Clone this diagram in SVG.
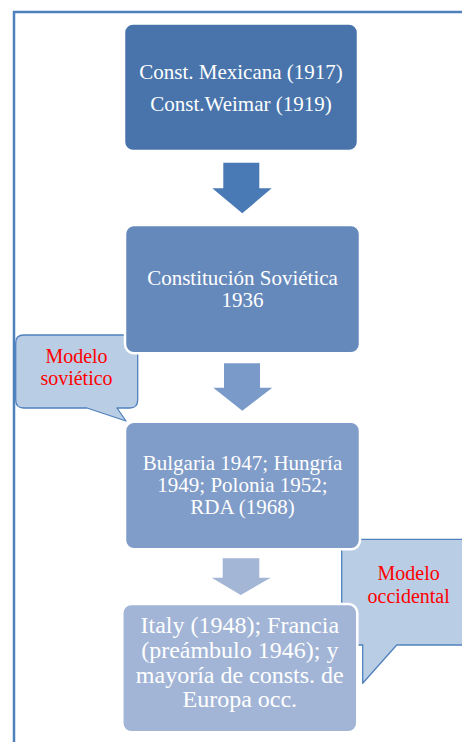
<svg xmlns="http://www.w3.org/2000/svg" width="462" height="742" viewBox="0 0 462 742">
<style>
.box{stroke:#FFFFFF;stroke-width:2.5}
.bt{font-family:"Liberation Serif","Times New Roman",serif;fill:#FFFFFF;text-anchor:middle}
.call{fill:#B9CDE5;stroke:#4F81BD;stroke-width:1.3;stroke-linejoin:round}
.ct{font-family:"Liberation Serif","Times New Roman",serif;fill:#FF0000;font-size:20px;text-anchor:middle}
</style>
<rect width="462" height="742" fill="#FFFFFF"/>
<rect x="14" y="12" width="470" height="750" fill="none" stroke="#4F81BD" stroke-width="2.5"/>
<g id="connectors">
<polygon points="223.3,162.7 259.3,162.7 259.3,188.3 271.7,188.3 242.3,213.3 212.3,188.3 223.3,188.3" fill="#4A7AB5"/>
<polygon points="224,363.3 260,363.3 260,387.7 272.3,387.7 242.3,410.7 213.3,387.7 224,387.7" fill="#7A9BCA"/>
<polygon points="222.7,558.3 259.3,558.3 259.3,577.7 270.7,577.7 240.7,595 211.7,577.7 222.7,577.7" fill="#A3B6D6"/>
</g>
<g id="callout-sovietico">
<path class="call" d="M23.7,335 H129.7 Q137.7,335 137.7,343 V400 Q137.7,408 129.7,408 H117 L126,421 L87,408 H23.7 Q15.7,408 15.7,400 V343 Q15.7,335 23.7,335 Z"/>
<text class="ct" x="76.5" y="363.3">Modelo</text>
<text class="ct" x="76.5" y="385.3">soviético</text>
</g>
<g id="callout-occidental">
<path class="call" d="M349.7,539.3 H468 Q476,539.3 476,547.3 V637 Q476,645 468,645 H396.7 L362.7,683.3 L362.7,645 H349.7 Q341.7,645 341.7,637 V547.3 Q341.7,539.3 349.7,539.3 Z"/>
<text class="ct" x="408.7" y="580">Modelo</text>
<text class="ct" x="408.7" y="602.7">occidental</text>
</g>
<g id="box1">
<rect class="box" x="124" y="23.5" width="234" height="127.5" rx="9" fill="#4874AB"/>
<text class="bt" x="241" y="79.3" font-size="21">Const. Mexicana (1917)</text>
<text class="bt" x="241" y="110.5" font-size="21">Const.Weimar (1919)</text>
</g>
<g id="box2">
<rect class="box" x="125" y="225" width="235" height="128.3" rx="9" fill="#6689BC"/>
<text class="bt" x="242.5" y="285" font-size="21">Constitución Soviética</text>
<text class="bt" x="242.5" y="307.3" font-size="21">1936</text>
</g>
<g id="box3">
<rect class="box" x="125" y="421.7" width="235" height="127.6" rx="9" fill="#809CC8"/>
<text class="bt" x="242.5" y="470" font-size="21">Bulgaria 1947; Hungría</text>
<text class="bt" x="242.5" y="492" font-size="21">1949; Polonia 1952;</text>
<text class="bt" x="242.5" y="514.3" font-size="21">RDA (1968)</text>
</g>
<g id="box4">
<rect class="box" x="122.3" y="604" width="235" height="128.3" rx="9" fill="#A2B5D6"/>
<text class="bt" x="239.8" y="633.3" font-size="24">Italy (1948); Francia</text>
<text class="bt" x="239.8" y="657.8" font-size="24">(preámbulo 1946); y</text>
<text class="bt" x="239.8" y="682.5" font-size="24">mayoría de consts. de</text>
<text class="bt" x="239.8" y="706.7" font-size="24">Europa occ.</text>
</g>
</svg>
